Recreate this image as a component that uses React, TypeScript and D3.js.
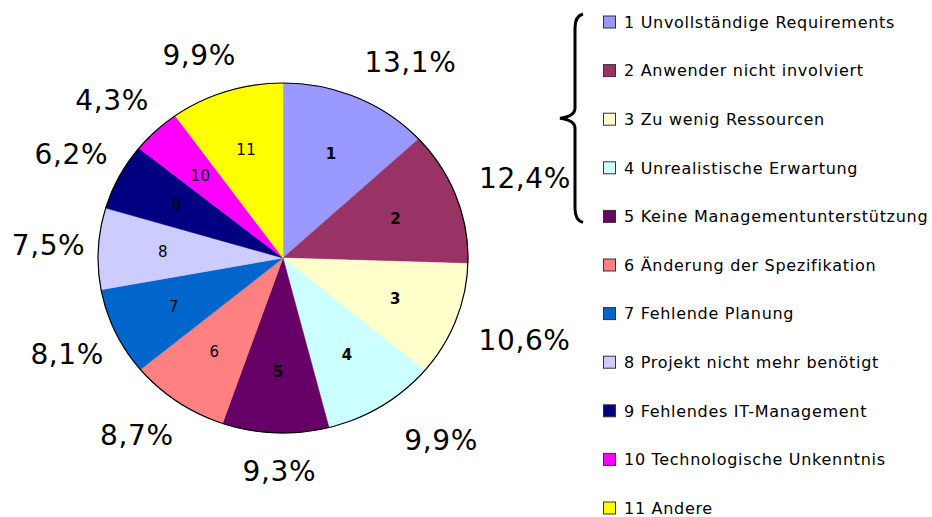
import { useRef, useEffect } from 'react'
import * as d3 from 'd3'

const categories = [
  'Unvollständige Requirements',
  'Anwender nicht involviert',
  'Zu wenig Ressourcen',
  'Unrealistische Erwartung',
  'Keine Managementunterstützung',
  'Änderung der Spezifikation',
  'Fehlende Planung',
  'Projekt nicht mehr benötigt',
  'Fehlendes IT-Management',
  'Technologische Unkenntnis',
  'Andere',
]
const shares = [13.1, 12.4, 10.6, 9.9, 9.3, 8.7, 8.1, 7.5, 6.2, 4.3, 9.9]
const colors = ['#9999FF', '#993366', '#FFFFCC', '#CCFFFF', '#660066', '#FF8080', '#0066CC', '#CCCCFF', '#000080', '#FF00FF', '#FFFF00']
const boldUpTo = 5

const width = 932
const height = 517
const font = 'DejaVu Sans, Verdana, sans-serif'

const locale = d3.formatLocale({ decimal: ',', thousands: '.', grouping: [3], currency: ['', '€'] })
const fmt = locale.format('.1f')

function drawPie(svgEl: SVGSVGElement) {
  const svg = d3.select(svgEl)
  svg.selectAll('*').remove()

  const cx = 283
  const cy = 258
  const rx = 185
  const ry = 175
  const sy = ry / rx

  const data = shares.map((v, i) => ({ v, i }))
  const pie = d3.pie<{ v: number; i: number }>().value((d) => d.v).sort(null)
  const arcs = pie(data)
  const arc = d3.arc<d3.PieArcDatum<{ v: number; i: number }>>().innerRadius(0).outerRadius(rx)
  const mid = (d: d3.PieArcDatum<{ v: number; i: number }>) => (d.startAngle + d.endAngle) / 2

  const g = svg.append('g').attr('transform', `translate(${cx},${cy}) scale(1,${sy})`)

  g.selectAll('path.slice')
    .data(arcs)
    .enter()
    .append('path')
    .attr('class', 'slice')
    .attr('d', arc)
    .attr('fill', (d) => colors[d.data.i])
    .attr('stroke', (d) => colors[d.data.i])
    .attr('stroke-width', 0.5)

  svg
    .append('ellipse')
    .attr('cx', cx)
    .attr('cy', cy)
    .attr('rx', rx)
    .attr('ry', ry)
    .attr('fill', 'none')
    .attr('stroke', '#000')
    .attr('stroke-width', 1.2)

  // numbers inside the slices
  const inner = 0.65 * rx
  svg
    .selectAll('text.num')
    .data(arcs)
    .enter()
    .append('text')
    .attr('class', 'num')
    .attr('x', (d) => cx + inner * Math.sin(mid(d)))
    .attr('y', (d) => cy - inner * sy * Math.cos(mid(d)))
    .attr('dy', '0.36em')
    .attr('text-anchor', 'middle')
    .attr('font-family', font)
    .attr('font-size', 15)
    .attr('letter-spacing', 0.4)
    .attr('font-weight', (d) => (d.data.i < boldUpTo ? 'bold' : 'normal'))
    .attr('fill', '#000')
    .text((d) => d.data.i + 1)

  // percentage labels outside: point on a wider ellipse, pushed out by half the label box
  const lcx = cx + 10
  const lx = 200
  const ly = 200
  const halfW = 45
  const halfH = 13
  svg
    .selectAll('text.pct')
    .data(arcs)
    .enter()
    .append('text')
    .attr('class', 'pct')
    .attr('x', (d) => lcx + lx * Math.sin(mid(d)) + halfW * Math.tanh(3 * Math.sin(mid(d))))
    .attr('y', (d) => cy - ly * Math.cos(mid(d)) - halfH * Math.tanh(3 * Math.cos(mid(d))))
    .attr('dy', '0.36em')
    .attr('text-anchor', 'middle')
    .attr('font-family', font)
    .attr('font-size', 28)
    .attr('letter-spacing', 0.6)
    .attr('fill', '#000')
    .text((d) => fmt(d.data.v) + '%')
}

function drawLegend(svgEl: SVGSVGElement) {
  const svg = d3.select(svgEl)
  const names = categories.map((c, i) => `${i + 1} ${c}`)
  const yScale = d3.scalePoint<string>().domain(names).range([22, 508])

  const legend = svg.append('g').attr('class', 'legend')
  const rows = legend
    .selectAll('g.row')
    .data(names)
    .enter()
    .append('g')
    .attr('class', 'row')
    .attr('transform', (d) => `translate(603,${yScale(d)})`)

  rows
    .append('rect')
    .attr('x', 0.5)
    .attr('y', -6)
    .attr('width', 12)
    .attr('height', 12)
    .attr('fill', (_d, i) => colors[i])
    .attr('stroke', '#333')
    .attr('stroke-width', 1)

  rows
    .append('text')
    .attr('x', 21)
    .attr('y', 0)
    .attr('dy', '0.36em')
    .attr('font-family', font)
    .attr('font-size', 16)
    .attr('letter-spacing', 0.7)
    .attr('fill', '#000')
    .text((d) => d)

  // curly brace grouping items 1-5
  const top = yScale(names[0])! - 8
  const bottom = yScale(names[4])! + 6
  const midY = (top + bottom) / 2
  const x = 575
  const path = d3.path()
  path.moveTo(x + 8, top)
  path.quadraticCurveTo(x, top + 2, x, top + 14)
  path.lineTo(x, midY - 10)
  path.quadraticCurveTo(x, midY - 2, x - 15, midY)
  path.quadraticCurveTo(x, midY + 2, x, midY + 10)
  path.lineTo(x, bottom - 14)
  path.quadraticCurveTo(x, bottom - 2, x + 8, bottom)
  legend
    .append('path')
    .attr('d', path.toString())
    .attr('fill', 'none')
    .attr('stroke', '#000')
    .attr('stroke-width', 3)
}

export default function App() {
  const ref = useRef<SVGSVGElement>(null)

  useEffect(() => {
    if (!ref.current) return
    drawPie(ref.current)
    drawLegend(ref.current)
  }, [])

  return (
    <div style={{ position: 'absolute', left: 0, top: 0 }}>
      <svg ref={ref} width={width} height={height} style={{ display: 'block', background: '#fff' }} />
    </div>
  )
}
